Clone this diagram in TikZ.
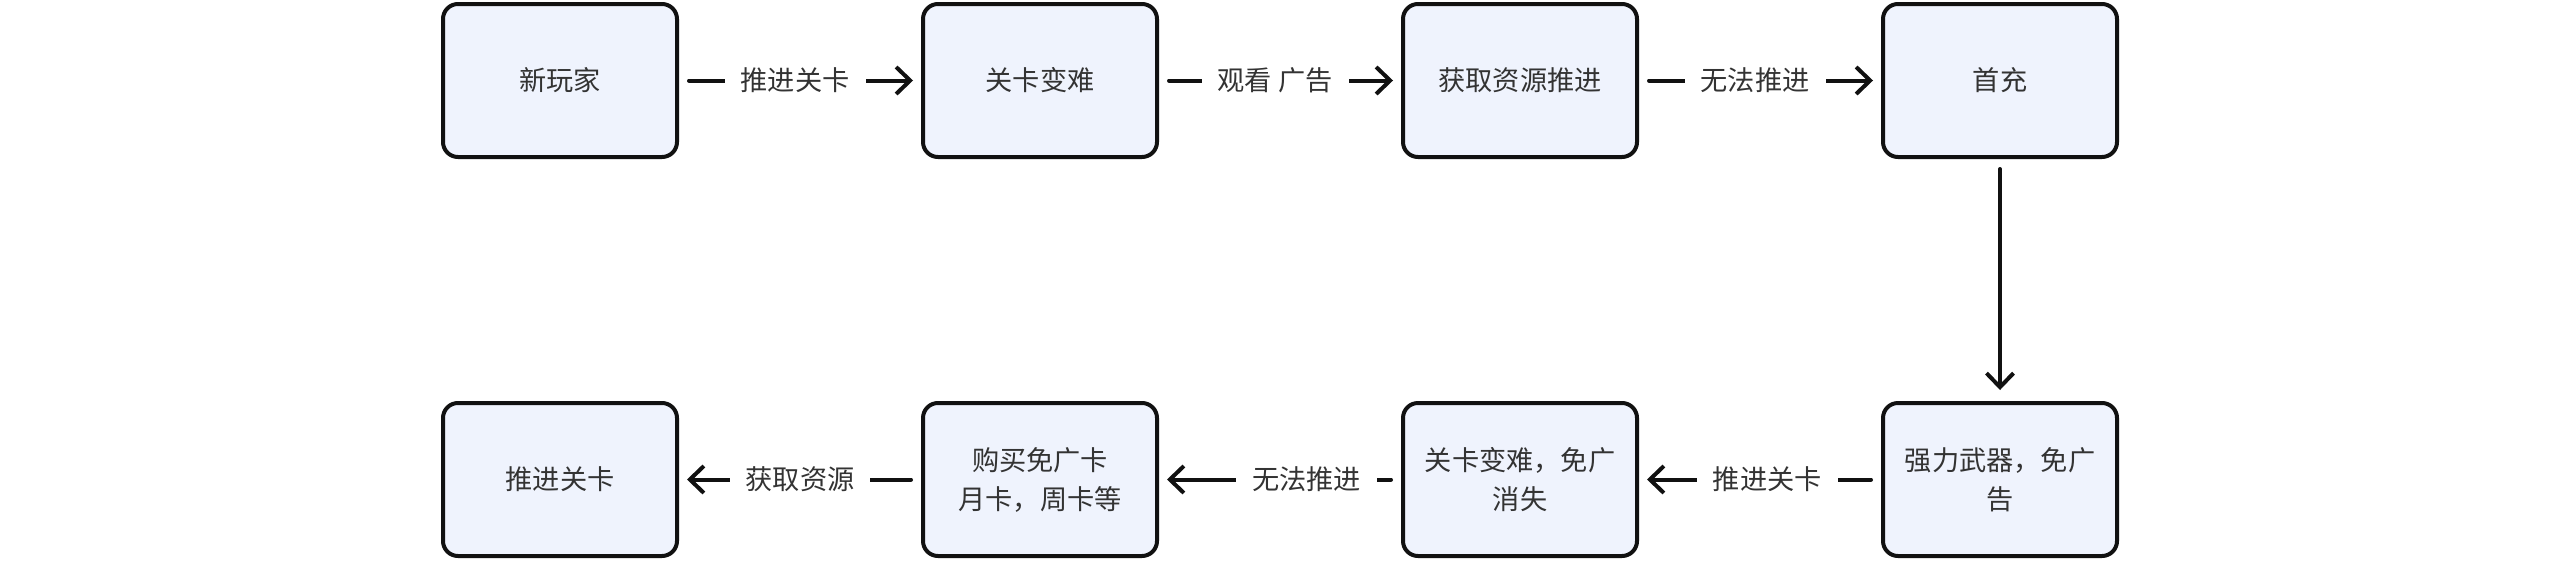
\documentclass[tikz,border=0pt]{standalone}
\usepackage{fontspec}
\setmainfont{Noto Sans CJK SC}
\usetikzlibrary{arrows.meta}
\definecolor{boxfill}{HTML}{EFF3FD}
\definecolor{txt}{HTML}{333333}
\definecolor{ln}{HTML}{111111}
\tikzset{
  flowbox/.style={draw=ln, line width=2pt, fill=boxfill, rounded corners=7.5pt,
    minimum width=117pt, minimum height=76.5pt, align=center, text=txt,
    font=\fontsize{13.6pt}{19.5pt}\selectfont, inner sep=0pt},
  flowedge/.style={draw=ln, line width=2pt, line cap=round,
    -{Straight Barb[length=7pt,width=13.5pt,line width=2pt]},
    shorten <=5pt, shorten >=4pt},
  elabel/.style={fill=white, text=txt, inner xsep=8pt, inner ysep=2pt,
    font=\fontsize{13.6pt}{16pt}\selectfont}
}
\begin{document}
\begin{tikzpicture}[x=0.5pt,y=-0.5pt]
\useasboundingbox (0,0) rectangle (2560,584);
\node[flowbox] (b1) at (560,80.5) {新玩家};
\node[flowbox] (b2) at (1040,80.5) {关卡变难};
\node[flowbox] (b3) at (1520,80.5) {获取资源推进};
\node[flowbox] (b4) at (2000,80.5) {首充};
\node[flowbox] (b5) at (560,479.5) {推进关卡};
\node[flowbox] (b6) at (1040,479.5) {购买免广卡\\月卡，周卡等};
\node[flowbox] (b7) at (1520,479.5) {关卡变难，免广\\消失};
\node[flowbox] (b8) at (2000,479.5) {强力武器，免广\\告};
\draw[flowedge] (b1) -- node[elabel, pos=0.48] {推进关卡} (b2);
\draw[flowedge] (b2) -- node[elabel, pos=0.48] {观看 广告} (b3);
\draw[flowedge] (b3) -- node[elabel, pos=0.48] {无法推进} (b4);
\draw[flowedge, shorten >=5.5pt] (b4) -- (b8);
\draw[flowedge] (b8) -- node[elabel, pos=0.47] {推进关卡} (b7);
\draw[flowedge] (b7) -- node[elabel, pos=0.39] {无法推进} (b6);
\draw[flowedge] (b6) -- node[elabel, pos=0.5] {获取资源} (b5);
\end{tikzpicture}
\end{document}
